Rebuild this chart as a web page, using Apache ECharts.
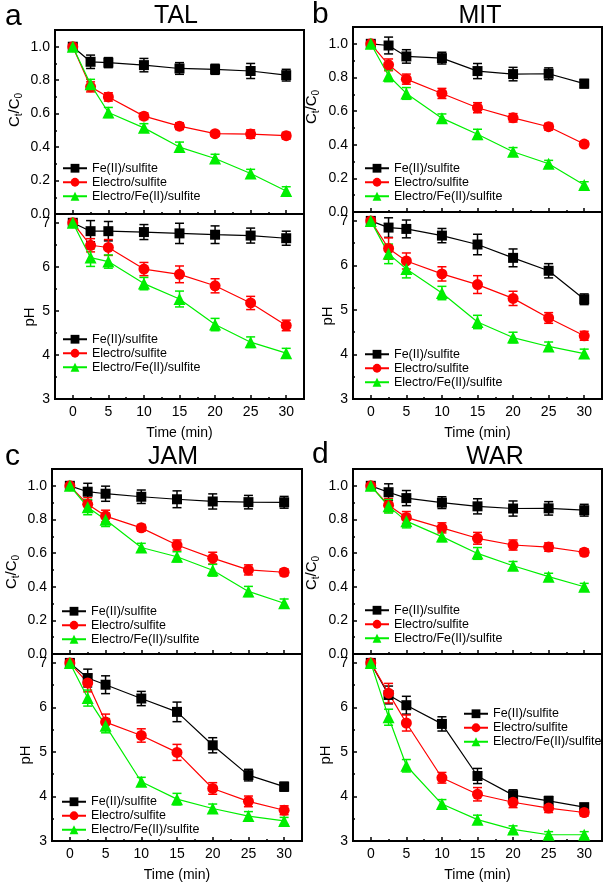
<!DOCTYPE html>
<html><head><meta charset="utf-8">
<script src="https://cdn.jsdelivr.net/npm/echarts@6/dist/echarts.min.js"></script>
<style>html,body{margin:0;padding:0;background:#fff}#c{width:607px;height:888px}</style>
</head><body><div id="c"></div>
<script>
// ---------------- data ----------------
const time = [0, 2.5, 5, 10, 15, 20, 25, 30];
const seriesNames = ['Fe(II)/sulfite', 'Electro/sulfite', 'Electro/Fe(II)/sulfite'];
const panelLetters = ['a', 'b', 'c', 'd'];
const panelTitles = ['TAL', 'MIT', 'JAM', 'WAR'];
const xTickLabels = [0, 5, 10, 15, 20, 25, 30];
const xMinorTicks = [2.5, 7.5, 12.5, 17.5, 22.5, 27.5];
const ratioTickLabels = [0, 0.2, 0.4, 0.6, 0.8, 1.0];
const pHTickLabels = [3, 4, 5, 6, 7];

// TAL
const talRatioFe = [1.0, 0.91, 0.905, 0.89, 0.87, 0.865, 0.855, 0.83];
const talRatioFeErr = [0.01, 0.04, 0.03, 0.04, 0.035, 0.03, 0.045, 0.035];
const talRatioEl = [1.0, 0.76, 0.70, 0.585, 0.525, 0.48, 0.478, 0.468];
const talRatioElErr = [0.01, 0.03, 0.025, 0.02, 0.02, 0.015, 0.025, 0.02];
const talRatioGr = [1.0, 0.775, 0.607, 0.515, 0.40, 0.332, 0.242, 0.138];
const talRatioGrErr = [0.01, 0.03, 0.03, 0.025, 0.03, 0.025, 0.025, 0.025];
const talPhFe = [7.0, 6.81, 6.81, 6.79, 6.76, 6.73, 6.71, 6.65];
const talPhFeErr = [0.02, 0.24, 0.22, 0.17, 0.23, 0.2, 0.17, 0.16];
const talPhEl = [7.0, 6.49, 6.44, 5.95, 5.83, 5.57, 5.18, 4.67];
const talPhElErr = [0.02, 0.15, 0.18, 0.15, 0.19, 0.16, 0.15, 0.12];
const talPhGr = [7.0, 6.21, 6.12, 5.62, 5.27, 4.69, 4.29, 4.04];
const talPhGrErr = [0.02, 0.2, 0.15, 0.14, 0.18, 0.14, 0.12, 0.11];
// MIT
const mitRatioFe = [1.0, 0.99, 0.925, 0.915, 0.838, 0.82, 0.822, 0.763];
const mitRatioFeErr = [0.01, 0.05, 0.04, 0.035, 0.045, 0.04, 0.035, 0.025];
const mitRatioEl = [1.0, 0.875, 0.79, 0.705, 0.62, 0.56, 0.507, 0.404];
const mitRatioElErr = [0.01, 0.035, 0.03, 0.03, 0.03, 0.025, 0.02, 0.015];
const mitRatioGr = [1.0, 0.81, 0.705, 0.558, 0.462, 0.358, 0.287, 0.16];
const mitRatioGrErr = [0.01, 0.035, 0.035, 0.025, 0.03, 0.025, 0.02, 0.02];
const mitPhFe = [7.0, 6.85, 6.82, 6.67, 6.47, 6.17, 5.88, 5.24];
const mitPhFeErr = [0.02, 0.22, 0.2, 0.16, 0.23, 0.2, 0.16, 0.12];
const mitPhEl = [7.0, 6.38, 6.10, 5.81, 5.57, 5.26, 4.82, 4.42];
const mitPhElErr = [0.02, 0.24, 0.18, 0.16, 0.2, 0.16, 0.12, 0.1];
const mitPhGr = [7.0, 6.26, 5.92, 5.38, 4.73, 4.38, 4.18, 4.02];
const mitPhGrErr = [0.02, 0.22, 0.2, 0.15, 0.15, 0.12, 0.1, 0.1];
// JAM
const jamRatioFe = [1.0, 0.965, 0.953, 0.935, 0.92, 0.907, 0.903, 0.902];
const jamRatioFeErr = [0.01, 0.05, 0.045, 0.04, 0.05, 0.045, 0.04, 0.035];
const jamRatioEl = [1.0, 0.89, 0.82, 0.75, 0.648, 0.57, 0.50, 0.486];
const jamRatioElErr = [0.01, 0.04, 0.035, 0.02, 0.03, 0.035, 0.03, 0.02];
const jamRatioGr = [1.0, 0.873, 0.798, 0.633, 0.578, 0.498, 0.372, 0.302];
const jamRatioGrErr = [0.01, 0.045, 0.04, 0.025, 0.03, 0.035, 0.03, 0.025];
const jamPhFe = [7.0, 6.66, 6.51, 6.20, 5.90, 5.15, 4.48, 4.22];
const jamPhFeErr = [0.02, 0.2, 0.2, 0.16, 0.22, 0.17, 0.13, 0.1];
const jamPhEl = [7.0, 6.55, 5.67, 5.37, 4.99, 4.18, 3.89, 3.69];
const jamPhElErr = [0.02, 0.2, 0.18, 0.15, 0.18, 0.13, 0.12, 0.1];
const jamPhGr = [7.0, 6.21, 5.59, 4.33, 3.94, 3.73, 3.56, 3.45];
const jamPhGrErr = [0.02, 0.18, 0.16, 0.1, 0.13, 0.1, 0.1, 0.08];
// WAR
const warRatioFe = [1.0, 0.962, 0.927, 0.9, 0.878, 0.865, 0.866, 0.855];
const warRatioFeErr = [0.01, 0.05, 0.045, 0.035, 0.045, 0.045, 0.04, 0.035];
const warRatioEl = [1.0, 0.885, 0.812, 0.75, 0.688, 0.648, 0.636, 0.605];
const warRatioElErr = [0.01, 0.04, 0.035, 0.03, 0.035, 0.03, 0.025, 0.02];
const warRatioGr = [1.0, 0.878, 0.79, 0.698, 0.598, 0.525, 0.46, 0.40];
const warRatioGrErr = [0.01, 0.04, 0.04, 0.03, 0.035, 0.025, 0.02, 0.02];
const warPhFe = [7.0, 6.28, 6.05, 5.63, 4.46, 4.03, 3.90, 3.76];
const warPhFeErr = [0.02, 0.2, 0.2, 0.16, 0.17, 0.12, 0.1, 0.08];
const warPhEl = [7.0, 6.32, 5.65, 4.42, 4.05, 3.87, 3.74, 3.64];
const warPhElErr = [0.02, 0.22, 0.18, 0.12, 0.15, 0.12, 0.1, 0.08];
const warPhGr = [7.0, 5.78, 4.69, 3.83, 3.48, 3.26, 3.14, 3.14];
const warPhGrErr = [0.02, 0.18, 0.14, 0.1, 0.1, 0.08, 0.07, 0.07];

// ---------------- assembly ----------------
const panelData = [
  { ratio: [talRatioFe, talRatioEl, talRatioGr], ratioErr: [talRatioFeErr, talRatioElErr, talRatioGrErr],
    ph: [talPhFe, talPhEl, talPhGr], phErr: [talPhFeErr, talPhElErr, talPhGrErr] },
  { ratio: [mitRatioFe, mitRatioEl, mitRatioGr], ratioErr: [mitRatioFeErr, mitRatioElErr, mitRatioGrErr],
    ph: [mitPhFe, mitPhEl, mitPhGr], phErr: [mitPhFeErr, mitPhElErr, mitPhGrErr] },
  { ratio: [jamRatioFe, jamRatioEl, jamRatioGr], ratioErr: [jamRatioFeErr, jamRatioElErr, jamRatioGrErr],
    ph: [jamPhFe, jamPhEl, jamPhGr], phErr: [jamPhFeErr, jamPhElErr, jamPhGrErr] },
  { ratio: [warRatioFe, warRatioEl, warRatioGr], ratioErr: [warRatioFeErr, warRatioElErr, warRatioGrErr],
    ph: [warPhFe, warPhEl, warPhGr], phErr: [warPhFeErr, warPhElErr, warPhGrErr] }
];

// layout (pixels)
const layout = [
  { left: 55, right: 304, top: 30, mid: 214, bottom: 399,
    letter: [5, 16.5], title: [176, 16], yName1: [15, 110], yName2: [30, 317],
    leg1: [62, 161.5], leg2: [62, 332.5] },
  { left: 353, right: 602, top: 27, mid: 212, bottom: 399,
    letter: [312, 14.5], title: [480, 16], yName1: [312, 107], yName2: [328, 316],
    leg1: [364, 161.5], leg2: [364, 347.5] },
  { left: 52, right: 302, top: 469, mid: 654, bottom: 841,
    letter: [5, 456.5], title: [173, 457], yName1: [12, 572], yName2: [26, 755],
    leg1: [61, 604.5], leg2: [61, 795] },
  { left: 353, right: 602, top: 469, mid: 654, bottom: 841,
    letter: [312, 454.5], title: [495, 457], yName1: [312, 573], yName2: [326, 755],
    leg1: [364, 603.5], leg2: [463, 707] }
];

const colors = ['#000000', '#ff0000', '#00ee00'];
const symbols = ['rect', 'circle', 'triangle'];
const symbolSizes = [10, 11, 12];
const FONT = 'Liberation Sans, Arial, Helvetica, sans-serif';

const grids = [], xAxes = [], yAxes = [], series = [], legends = [], graphics = [];

function errRender(color) {
  return function (params, api) {
    const x = api.value(0), y = api.value(1), e = api.value(2);
    const hi = api.coord([x, y + e]);
    const lo = api.coord([x, y - e]);
    const hw = 4.5;
    const st = { stroke: color, lineWidth: 1.5 };
    return { type: 'group', children: [
      { type: 'line', shape: { x1: hi[0], y1: hi[1], x2: lo[0], y2: lo[1] }, style: st },
      { type: 'line', shape: { x1: hi[0] - hw, y1: hi[1], x2: hi[0] + hw, y2: hi[1] }, style: st },
      { type: 'line', shape: { x1: lo[0] - hw, y1: lo[1], x2: lo[0] + hw, y2: lo[1] }, style: st }
    ] };
  };
}

panelData.forEach((pd, p) => {
  const L = layout[p];
  [0, 1].forEach(s => {
    const g = p * 2 + s;
    const top = s === 0 ? L.top : L.mid;
    const bot = s === 0 ? L.mid : L.bottom;
    grids.push({ left: L.left, top: top, width: L.right - L.left, height: bot - top,
      show: true, borderColor: '#000', borderWidth: 2, backgroundColor: 'transparent',
      outerBoundsMode: 'none', containLabel: false });
    // major x axis
    xAxes.push({ type: 'value', gridIndex: g, min: -2.5, max: 32.5, interval: 2.5, position: 'bottom',
      axisLine: { show: true, onZero: false, lineStyle: { color: '#000', width: 2 } },
      axisTick: { show: true, inside: true, length: 4, customValues: xTickLabels, lineStyle: { color: '#000', width: 1.5 } },
      axisLabel: { show: s === 1, customValues: xTickLabels, margin: 6, color: '#000', fontSize: 14, fontFamily: FONT },
      splitLine: { show: false },
      name: s === 1 ? 'Time (min)' : '', nameLocation: 'middle', nameGap: 27,
      nameTextStyle: { color: '#000', fontSize: 14, fontFamily: FONT } });
    // minor x ticks
    xAxes.push({ type: 'value', gridIndex: g, min: -2.5, max: 32.5, interval: 2.5, position: 'bottom',
      axisLine: { show: false, onZero: false },
      axisTick: { show: true, inside: true, length: 2, customValues: xMinorTicks, lineStyle: { color: '#000', width: 1.5 } },
      axisLabel: { show: false }, splitLine: { show: false } });
    if (s === 0) {
      yAxes.push({ type: 'value', gridIndex: g, min: 0, max: 1.1, interval: 0.2,
        axisLine: { show: true, onZero: false, lineStyle: { color: '#000', width: 2 } },
        axisTick: { show: true, inside: true, length: 4, lineStyle: { color: '#000', width: 1.5 } },
        minorTick: { show: true, splitNumber: 2, length: 2, lineStyle: { color: '#000', width: 1.5 } },
        axisLabel: { customValues: ratioTickLabels, formatter: v => v.toFixed(1), margin: 5, color: '#000', fontSize: 14, fontFamily: FONT },
        splitLine: { show: false } });
    } else {
      yAxes.push({ type: 'value', gridIndex: g, min: 3, max: 7.2, interval: 1,
        axisLine: { show: true, onZero: false, lineStyle: { color: '#000', width: 2 } },
        axisTick: { show: true, inside: true, length: 4, lineStyle: { color: '#000', width: 1.5 } },
        minorTick: { show: true, splitNumber: 2, length: 2, lineStyle: { color: '#000', width: 1.5 } },
        axisLabel: { customValues: pHTickLabels, formatter: v => String(v), margin: 5, color: '#000', fontSize: 14, fontFamily: FONT },
        splitLine: { show: false } });
    }
    const vals = s === 0 ? pd.ratio : pd.ph;
    const errs = s === 0 ? pd.ratioErr : pd.phErr;
    seriesNames.forEach((nm, k) => {
      series.push({ type: 'custom', name: nm + ' error', xAxisIndex: g * 2, yAxisIndex: g,
        renderItem: errRender(colors[k]), silent: true, z: 3, animation: false,
        encode: { x: 0, y: 1 },
        data: time.map((t, i) => [t, vals[k][i], errs[k][i]]) });
      series.push({ type: 'line', name: nm, xAxisIndex: g * 2, yAxisIndex: g,
        data: time.map((t, i) => [t, vals[k][i]]),
        symbol: symbols[k], symbolSize: symbolSizes[k], showAllSymbol: true,
        lineStyle: { color: colors[k], width: 1.2 }, itemStyle: { color: colors[k] },
        z: 3, animation: false, silent: true });
    });
    const lp = s === 0 ? L.leg1 : L.leg2;
    legends.push({ left: lp[0], top: lp[1], orient: 'vertical', itemWidth: 24, itemHeight: 11, itemGap: 0.5,
      data: seriesNames, selectedMode: false, padding: 0,
      textStyle: { color: '#000', fontSize: 12.5, lineHeight: 13.5, fontFamily: FONT } });
  });
  graphics.push({ type: 'text', x: L.letter[0], y: L.letter[1],
    style: { text: panelLetters[p], fill: '#000', font: '30px ' + FONT, align: 'left', verticalAlign: 'middle' } });
  graphics.push({ type: 'text', x: L.title[0], y: L.title[1],
    style: { text: panelTitles[p], fill: '#000', font: '25px ' + FONT, align: 'center', verticalAlign: 'middle' } });
  graphics.push({ type: 'text', x: L.yName1[0], y: L.yName1[1], rotation: Math.PI / 2,
    style: { text: '{m|C}{s|t}{m|/C}{s|0}', align: 'center', verticalAlign: 'middle',
      rich: { m: { fontSize: 15, fontFamily: FONT, fill: '#000', lineHeight: 18 },
              s: { fontSize: 10, fontFamily: FONT, fill: '#000', lineHeight: 10, verticalAlign: 'bottom' } } } });
  graphics.push({ type: 'text', x: L.yName2[0], y: L.yName2[1], rotation: Math.PI / 2,
    style: { text: 'pH', fill: '#000', font: '15px ' + FONT, align: 'center', verticalAlign: 'middle' } });
});

const chart = echarts.init(document.getElementById('c'), null, { renderer: 'canvas' });
chart.setOption({
  animation: false,
  backgroundColor: '#fff',
  grid: grids, xAxis: xAxes, yAxis: yAxes, series: series, legend: legends,
  graphic: { elements: graphics }
});
</script>
</body></html>
